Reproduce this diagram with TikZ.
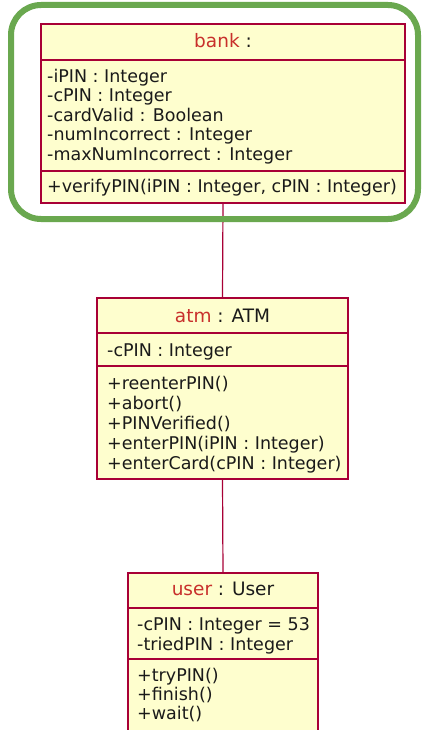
\documentclass[tikz,border=0pt]{standalone}
\usepackage{fontspec}
\setmainfont{DejaVu Sans}
\definecolor{umlborder}{HTML}{A80036}
\definecolor{umlfill}{HTML}{FEFECE}
\definecolor{umlname}{HTML}{C8302C}
\definecolor{hlgreen}{HTML}{6AA84F}
\definecolor{umltext}{HTML}{1A1A1A}
\begin{document}
\begin{tikzpicture}[x=1pt,y=-1pt,
  classbox/.style={draw=umlborder,fill=umlfill,line width=1.3pt,inner sep=0pt,outer sep=0pt},
  divider/.style={draw=umlborder,line width=1.3pt},
  member/.style={anchor=base west,inner sep=0pt,text=umltext,font=\fontsize{17.5}{20}\selectfont},
  title/.style={anchor=base,inner sep=0pt,text=umltext,font=\fontsize{18.5}{21}\selectfont},
  link/.style={draw=umlborder,line width=1.2pt},
  highlight/.style={draw=hlgreen,line width=6pt,rounded corners=30pt}]
\useasboundingbox (0,0) rectangle (424,730);
\clip (0,0) rectangle (424,730);
\fill[white] (0,0) rectangle (424,730);
% boxes
\path[classbox] (41,24) rectangle (405,203);
\coordinate (bankS) at (223,203);
\path[classbox] (97,298) rectangle (348,479);
\coordinate (atmN) at (222.5,298);
\coordinate (atmS) at (222.5,479);
\path[classbox] (128,573) rectangle (318,740);
\coordinate (userN) at (223,573);
% connectors
\draw[link] (bankS) -- (atmN);
\draw[link] (atmS) -- (userN);
% bank
\draw[divider] (41,60) -- (405,60);
\draw[divider] (41,171) -- (405,171);
\node[title] (bankT) at (223,48) {\textcolor{umlname}{bank} :};
\node[member] (b1) at (47,82.5) {-iPIN : Integer};
\node[member] (b2) at (47,102) {-cPIN : Integer};
\node[member] (b3) at (47,121.5) {-cardValid : Boolean};
\node[member] (b4) at (47,141) {-numIncorrect : Integer};
\node[member] (b5) at (47,160.5) {-maxNumIncorrect : Integer};
\node[member] (b6) at (47,193) {+verifyPIN(iPIN : Integer, cPIN : Integer)};
% atm
\draw[divider] (97,333) -- (348,333);
\draw[divider] (97,366) -- (348,366);
\node[title] (atmT) at (222.5,322) {\textcolor{umlname}{atm} : ATM};
\node[member] (a1) at (107,356) {-cPIN : Integer};
\node[member] (a2) at (107,389) {+reenterPIN()};
\node[member] (a3) at (107,409) {+abort()};
\node[member] (a4) at (107,429) {+PINVerified()};
\node[member] (a5) at (107,449) {+enterPIN(iPIN : Integer)};
\node[member] (a6) at (107,469) {+enterCard(cPIN : Integer)};
% user
\draw[divider] (128,608) -- (318,608);
\draw[divider] (128,659) -- (318,659);
\node[title] (userT) at (223,595) {\textcolor{umlname}{user} : User};
\node[member] (u1) at (137,630) {-cPIN : Integer = 53};
\node[member] (u2) at (137,650) {-triedPIN : Integer};
\node[member] (u3) at (137,681) {+tryPIN()};
\node[member] (u4) at (137,700) {+finish()};
\node[member] (u5) at (137,719) {+wait()};
% highlight frame
\draw[highlight] (11,5) rectangle (418,219);
\end{tikzpicture}
\end{document}
